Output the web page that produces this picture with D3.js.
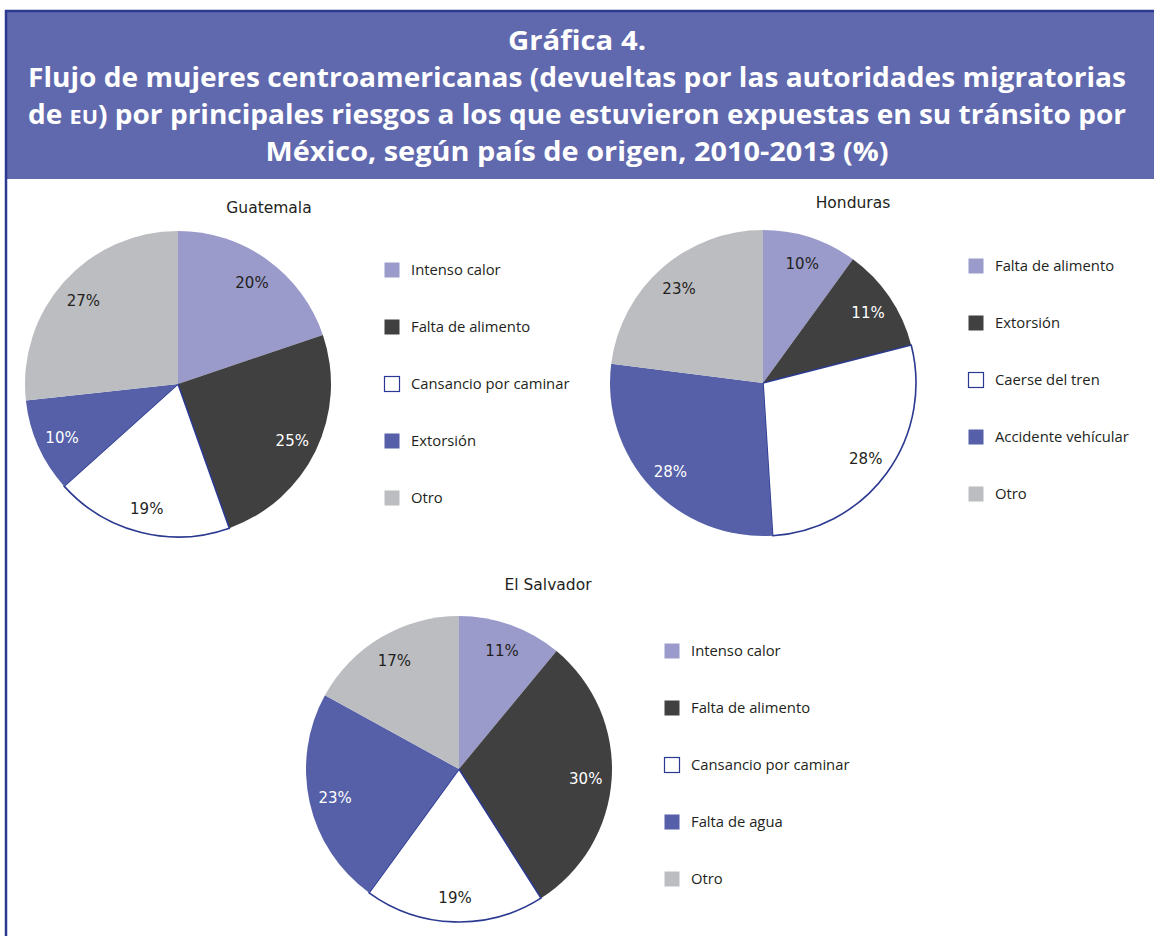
<!DOCTYPE html>
<html>
<head>
<meta charset="utf-8">
<script src="https://cdn.jsdelivr.net/npm/d3@7"></script>
<style>
  html, body { margin: 0; padding: 0; background: #fff; }
  svg { display: block; }
</style>
</head>
<body>
<svg id="chart" width="1154" height="936"></svg>
<script>
// --- Data ---
const guatemalaCategories = ['Intenso calor', 'Falta de alimento', 'Cansancio por caminar', 'Extorsión', 'Otro'];
const guatemalaValues     = [20, 25, 19, 10, 27];

const hondurasCategories  = ['Falta de alimento', 'Extorsión', 'Caerse del tren', 'Accidente vehícular', 'Otro'];
const hondurasValues      = [10, 11, 28, 28, 23];

const salvadorCategories  = ['Intenso calor', 'Falta de alimento', 'Cansancio por caminar', 'Falta de agua', 'Otro'];
const salvadorValues      = [11, 30, 19, 23, 17];

const titleLines = [
    'Gráfica 4.',
    'Flujo de mujeres centroamericanas (devueltas por las autoridades migratorias',
    'de EU) por principales riesgos a los que estuvieron expuestas en su tránsito por',
    'México, según país de origen, 2010-2013 (%)',
];

// slot colours (same order in every pie)
const SLOTS = [
    { fill: '#9A9BCB', text: '#231F20' },
    { fill: '#404040', text: '#FFFFFF' },
    { fill: '#FFFFFF', text: '#231F20', stroke: '#2B3990' },
    { fill: '#5560A9', text: '#FFFFFF' },
    { fill: '#BCBDC0', text: '#231F20' },
];

const BORDER = '#2B3990';
const HEADER = '#6068AE';

const svg = d3.select('#chart');

// --- Frame & header ---
svg.append('rect')
    .attr('x', 6).attr('y', 11)
    .attr('width', 1160).attr('height', 168)
    .attr('fill', HEADER);

svg.append('path')
    .attr('d', 'M6,940 L6,11 L1160,11')
    .attr('fill', 'none')
    .attr('stroke', BORDER)
    .attr('stroke-width', 2.5);

// title lines: [baseline y, width]
const titleLayout = [[50, 138], [87, 1098], [124, 1098], [161, 623]];

titleLines.forEach((line, i) => {
    const t = svg.append('text')
        .attr('x', 577)
        .attr('y', titleLayout[i][0])
        .attr('text-anchor', 'middle')
        .attr('font-family', '"Open Sans", "Noto Sans", sans-serif')
        .attr('font-weight', 700)
        .attr('font-size', 26)
        .attr('fill', '#fff')
        .attr('textLength', titleLayout[i][1])
        .attr('lengthAdjust', 'spacingAndGlyphs');
    if (line.includes('EU')) {
        const [a, b] = line.split('EU');
        t.append('tspan').text(a);
        t.append('tspan').attr('font-size', 20).text('EU');
        t.append('tspan').text(b);
    } else {
        t.text(line);
    }
});

// --- Pies ---
const R = 153;

function drawPie({ name, categories, values, cx, cy, titleX, titleY, legendX, legendY }) {
    const g = svg.append('g').attr('transform', `translate(${cx},${cy})`);

    const pie = d3.pie().sort(null).value(d => d.value);
    const arc = d3.arc().innerRadius(0).outerRadius(R);
    const labelArc = d3.arc().innerRadius(R * 0.83).outerRadius(R * 0.83);

    const data = pie(values.map((v, i) => ({ value: v, slot: i, label: categories[i] })));

    g.selectAll('path.slice')
        .data(data).join('path')
        .attr('class', 'slice')
        .attr('d', arc)
        .attr('fill', d => SLOTS[d.data.slot].fill)
        .attr('stroke', d => SLOTS[d.data.slot].stroke || 'none')
        .attr('stroke-width', 1.6)
        .attr('stroke-linejoin', 'round');

    g.selectAll('text.pct')
        .data(data).join('text')
        .attr('class', 'pct')
        .attr('transform', d => `translate(${labelArc.centroid(d)})`)
        .attr('text-anchor', 'middle')
        .attr('dy', '0.45em')
        .attr('font-family', '"DejaVu Sans", sans-serif')
        .attr('font-size', 15)
        .attr('fill', d => SLOTS[d.data.slot].text)
        .text(d => d.data.value + '%');

    svg.append('text')
        .attr('x', titleX).attr('y', titleY)
        .attr('text-anchor', 'middle')
        .attr('dy', '0.36em')
        .attr('font-family', '"DejaVu Sans", sans-serif')
        .attr('font-size', 15.5)
        .attr('fill', '#231F20')
        .text(name);

    const leg = svg.append('g').attr('transform', `translate(${legendX},${legendY})`);
    const row = leg.selectAll('g')
        .data(categories).join('g')
        .attr('transform', (d, i) => `translate(0,${i * 57})`);

    row.append('rect')
        .attr('x', 0.5).attr('y', -7.5)
        .attr('width', 15).attr('height', 15)
        .attr('fill', (d, i) => SLOTS[i].fill)
        .attr('stroke', (d, i) => SLOTS[i].stroke || 'none')
        .attr('stroke-width', 1.2);

    row.append('text')
        .attr('x', 27)
        .attr('dy', '0.35em')
        .attr('font-family', '"Open Sans", "Noto Sans", sans-serif')
        .attr('font-size', 14.8)
        .attr('fill', '#231F20')
        .text(d => d);
}

drawPie({ name: 'Guatemala', categories: guatemalaCategories, values: guatemalaValues,
          cx: 178, cy: 384, titleX: 269, titleY: 207, legendX: 384, legendY: 270 });
drawPie({ name: 'Honduras', categories: hondurasCategories, values: hondurasValues,
          cx: 763, cy: 383, titleX: 853, titleY: 202, legendX: 968, legendY: 266 });
drawPie({ name: 'El Salvador', categories: salvadorCategories, values: salvadorValues,
          cx: 459, cy: 769, titleX: 548, titleY: 584, legendX: 664, legendY: 651 });
</script>
</body>
</html>
